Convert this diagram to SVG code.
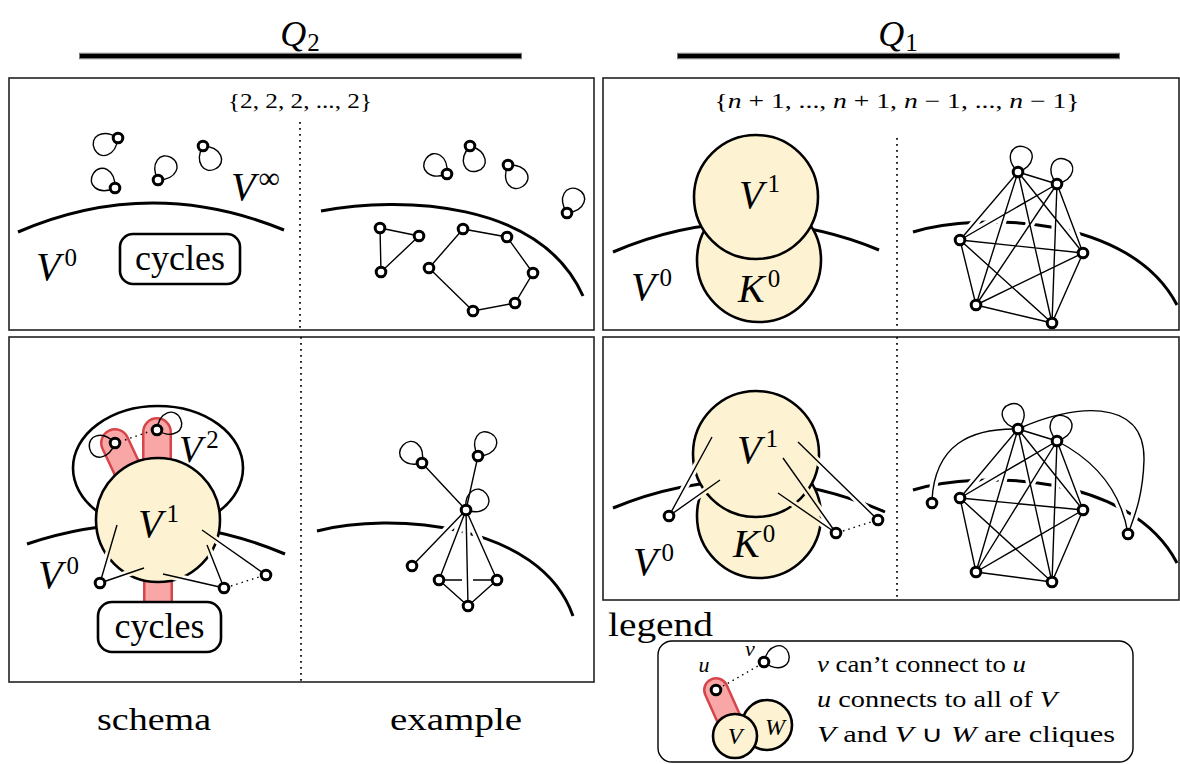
<svg xmlns="http://www.w3.org/2000/svg" xmlns:xlink="http://www.w3.org/1999/xlink" width="1180" height="764" viewBox="0 0 1180 764">
<style>
.t{font-family:"Liberation Serif","Times New Roman",serif;fill:#000}
.m{font-style:italic}
.panel{fill:#fff;stroke:#222;stroke-width:1.6}
.div{stroke:#000;stroke-width:1.7;stroke-dasharray:1.7 4.3;fill:none}
.arc{fill:none;stroke:#000;stroke-width:3}
.edge{fill:none;stroke:#000;stroke-width:1.4}
.v{fill:#fff;stroke:#000;stroke-width:3}
.loop{fill:none;stroke:#000;stroke-width:1.4}
.setf{fill:#fdf3d3}
.sets{fill:none;stroke:#000;stroke-width:2.6}
.dot{fill:none;stroke:#000;stroke-width:1.4;stroke-dasharray:1.5 4}
.barO{stroke:#d6454a;stroke-linecap:round}
.barI{stroke:#f8a6a6;stroke-linecap:round}
.box{fill:#fff;stroke:#000;stroke-width:2.6}
</style>
<defs>
<path id="lp" d="M0,0 C-16,-10 -13,-26 0,-26 C13,-26 16,-10 0,0"/>
<g id="e-blS">
<path d="M117,525 L100,583 M144,568 L100,583 M163,574 L224,588 M207,545 L224,588 M202,530 L266,575"/>
</g>
<g id="e-blE">
<path d="M466,510 L422,463 M466,510 L478,456 M466,510 L412,566 M466,510 L439,580 M466,510 L497,580 M466,510 L468,606 M439,580 L468,606 M497,580 L468,606"/>
</g>
<g id="e-trE">
<path d="M1018,172L1057,184 M1018,172L960,240 M1018,172L1083,253 M1018,172L976,305 M1018,172L1052,323 M1057,184L960,240 M1057,184L1083,253 M1057,184L976,305 M1057,184L1052,323 M960,240L1083,253 M960,240L976,305 M960,240L1052,323 M1083,253L976,305 M1083,253L1052,323 M976,305L1052,323"/>
</g>
<g id="e-brS">
<path d="M712,437 L669,516 M720,480 L669,516 M798,442 L878,520 M783,458 L836,533 M778,493 L836,533"/>
</g>
<g id="e-brE">
<path d="M1018,429L1057,441 M1018,429L960,498 M1018,429L1083,510 M1018,429L976,572 M1018,429L1052,582 M1057,441L960,498 M1057,441L1083,510 M1057,441L976,572 M1057,441L1052,582 M960,498L1083,510 M960,498L976,572 M960,498L1052,582 M1083,510L976,572 M1083,510L1052,582 M976,572L1052,582"/>
<path d="M1018,429 C970,428 935,445 932,500 M1018,429 C1070,405 1145,395 1144,460 C1143,495 1135,515 1128,534 M1057,441 C1090,458 1120,485 1128,534"/>
</g>
<mask id="m-blS" maskUnits="userSpaceOnUse" x="0" y="0" width="1180" height="764">
<rect width="1180" height="764" fill="#fff"/>
<use xlink:href="#e-blS" fill="none" stroke="#000" stroke-width="7"/>
</mask>
<mask id="m-blE" maskUnits="userSpaceOnUse" x="0" y="0" width="1180" height="764">
<rect width="1180" height="764" fill="#fff"/>
<use xlink:href="#e-blE" fill="none" stroke="#000" stroke-width="8"/>
</mask>
<mask id="m-trE" maskUnits="userSpaceOnUse" x="0" y="0" width="1180" height="764">
<rect width="1180" height="764" fill="#fff"/>
<use xlink:href="#e-trE" fill="none" stroke="#000" stroke-width="8"/>
</mask>
<mask id="m-brS" maskUnits="userSpaceOnUse" x="0" y="0" width="1180" height="764">
<rect width="1180" height="764" fill="#fff"/>
<use xlink:href="#e-brS" fill="none" stroke="#000" stroke-width="7"/>
</mask>
<mask id="m-brE" maskUnits="userSpaceOnUse" x="0" y="0" width="1180" height="764">
<rect width="1180" height="764" fill="#fff"/>
<use xlink:href="#e-brE" fill="none" stroke="#000" stroke-width="8"/>
</mask>
</defs>
<rect width="1180" height="764" fill="#fff"/>

<!-- headers -->
<g id="header-q2">
<line x1="79" y1="56" x2="522" y2="56" stroke="#7a7a7a" stroke-width="6.5"/>
<line x1="80" y1="56" x2="521" y2="56" stroke="#000" stroke-width="4"/>
<text class="t" x="300" y="46" font-size="36" text-anchor="middle"><tspan class="m">Q</tspan><tspan font-size="25" dx="1" dy="5">2</tspan></text>
</g>
<g id="header-q1">
<line x1="677" y1="56" x2="1120" y2="56" stroke="#7a7a7a" stroke-width="6.5"/>
<line x1="678" y1="56" x2="1119" y2="56" stroke="#000" stroke-width="4"/>
<text class="t" x="898" y="46" font-size="36" text-anchor="middle"><tspan class="m">Q</tspan><tspan font-size="25" dx="1" dy="5">1</tspan></text>
</g>

<!-- top-left panel -->
<g id="panel-q2-top">
<rect class="panel" x="9" y="78" width="585" height="252"/>
<line class="div" x1="300" y1="122" x2="300" y2="330"/>
<text class="t" x="300" y="108" font-size="21" text-anchor="middle" textLength="144" lengthAdjust="spacingAndGlyphs">{2, 2, 2, ..., 2}</text>
<path class="arc" d="M18,232 Q150,175 284,230"/>
<g id="tl-loops">
<use xlink:href="#lp" class="loop" transform="translate(118,138) rotate(-115)"/>
<use xlink:href="#lp" class="loop" transform="translate(115,188) rotate(-56)"/>
<use xlink:href="#lp" class="loop" transform="translate(158,180) rotate(31)"/>
<use xlink:href="#lp" class="loop" transform="translate(203,146) rotate(151)"/>
<circle class="v" cx="118" cy="138" r="4.8"/>
<circle class="v" cx="115" cy="188" r="4.8"/>
<circle class="v" cx="158" cy="180" r="4.8"/>
<circle class="v" cx="203" cy="146" r="4.8"/>
</g>
<text class="t" x="231" y="200" font-size="40"><tspan class="m">V</tspan><tspan font-size="30" dx="3" dy="-12">∞</tspan></text>
<text class="t" x="36" y="280" font-size="40"><tspan class="m">V</tspan><tspan font-size="25" dx="4" dy="-14">0</tspan></text>
<g id="tl-cycles">
<rect class="box" x="120" y="234" width="120" height="50" rx="13"/>
<text class="t" x="180" y="270" font-size="36" text-anchor="middle">cycles</text>
</g>
<!-- example -->
<path class="arc" d="M321,211 C400,196 540,200 583,296"/>
<g id="tl-ex-conn">
<path class="edge" d="M380,228 L419,236 L381,272 Z M463,229 L507,237 L533,273 L515,303 L473,311 L429,268 Z"/>
</g>
<g id="tl-ex-nodes">
<use xlink:href="#lp" class="loop" transform="translate(447,174) rotate(-53)"/>
<use xlink:href="#lp" class="loop" transform="translate(470,146) rotate(164)"/>
<use xlink:href="#lp" class="loop" transform="translate(508,165) rotate(145)"/>
<use xlink:href="#lp" class="loop" transform="translate(567,213) rotate(25)"/>
<circle class="v" cx="447" cy="174" r="4.8"/>
<circle class="v" cx="470" cy="146" r="4.8"/>
<circle class="v" cx="508" cy="165" r="4.8"/>
<circle class="v" cx="567" cy="213" r="4.8"/>
<circle class="v" cx="380" cy="228" r="4.8"/>
<circle class="v" cx="419" cy="236" r="4.8"/>
<circle class="v" cx="381" cy="272" r="4.8"/>
<circle class="v" cx="463" cy="229" r="4.8"/>
<circle class="v" cx="507" cy="237" r="4.8"/>
<circle class="v" cx="533" cy="273" r="4.8"/>
<circle class="v" cx="515" cy="303" r="4.8"/>
<circle class="v" cx="473" cy="311" r="4.8"/>
<circle class="v" cx="429" cy="268" r="4.8"/>
</g>
</g>

<!-- top-right panel -->
<g id="panel-q1-top">
<rect class="panel" x="603" y="78" width="576" height="252"/>
<line class="div" x1="897" y1="138" x2="897" y2="330"/>
<text class="t" x="897" y="108" font-size="21" text-anchor="middle" textLength="365" lengthAdjust="spacingAndGlyphs">{<tspan class="m">n</tspan> + 1, ..., <tspan class="m">n</tspan> + 1, <tspan class="m">n</tspan> − 1, ..., <tspan class="m">n</tspan> − 1}</text>
<path class="arc" d="M613,252 Q746,195 879,250"/>
<g id="tr-K0">
<circle class="setf" cx="759" cy="260" r="62"/>
<circle class="sets" cx="759" cy="260" r="62"/>
</g>
<g id="tr-V1">
<circle class="setf" cx="756" cy="197" r="62"/>
<circle class="sets" cx="756" cy="197" r="62"/>
</g>
<text class="t" x="739" y="208" font-size="40"><tspan class="m">V</tspan><tspan font-size="25" dx="4" dy="-16">1</tspan></text>
<text class="t" x="738" y="302" font-size="40"><tspan class="m">K</tspan><tspan font-size="25" dx="3" dy="-15">0</tspan></text>
<text class="t" x="631" y="300" font-size="40"><tspan class="m">V</tspan><tspan font-size="25" dx="4" dy="-14">0</tspan></text>
<!-- example -->
<path class="arc" mask="url(#m-trE)" d="M913,232 C980,212 1130,215 1177,305"/>
<g id="tr-ex-conn"><use xlink:href="#e-trE" class="edge"/></g>
<g id="tr-ex-nodes">
<use xlink:href="#lp" class="loop" transform="translate(1018,172) rotate(12)"/>
<use xlink:href="#lp" class="loop" transform="translate(1057,184) rotate(18)"/>
<circle class="v" cx="1018" cy="172" r="4.8"/>
<circle class="v" cx="1057" cy="184" r="4.8"/>
<circle class="v" cx="960" cy="240" r="4.8"/>
<circle class="v" cx="1083" cy="253" r="4.8"/>
<circle class="v" cx="976" cy="305" r="4.8"/>
<circle class="v" cx="1052" cy="323" r="4.8"/>
</g>
</g>

<!-- bottom-left panel -->
<g id="panel-q2-bottom">
<rect class="panel" x="9" y="337" width="585" height="345"/>
<line class="div" x1="301" y1="337" x2="301" y2="682"/>
<g id="bl-V2"><ellipse cx="158" cy="468" rx="85" ry="62" fill="#fff" stroke="#000" stroke-width="2.6"/></g>
<g id="bl-bars">
<line class="barO" x1="115" y1="443" x2="138" y2="492" stroke-width="30"/>
<line class="barI" x1="115" y1="443" x2="138" y2="492" stroke-width="25"/>
<line class="barO" x1="157" y1="432" x2="157" y2="485" stroke-width="30"/>
<line class="barI" x1="157" y1="432" x2="157" y2="485" stroke-width="25"/>
<line class="barO" x1="158" y1="555" x2="158" y2="615" stroke-width="30"/>
<line class="barI" x1="158" y1="555" x2="158" y2="615" stroke-width="25"/>
</g>
<path class="arc" d="M27,544 Q157,500 285,554"/>
<g id="bl-V1">
<circle class="setf" cx="158" cy="520" r="62"/>
<circle class="sets" cx="158" cy="520" r="62" mask="url(#m-blS)"/>
</g>
<g id="bl-cycles">
<rect class="box" x="98" y="602" width="123" height="50" rx="14"/>
<text class="t" x="159.5" y="638" font-size="36" text-anchor="middle">cycles</text>
</g>
<text class="t" x="179" y="462" font-size="38"><tspan class="m">V</tspan><tspan font-size="25" dx="4" dy="-14">2</tspan></text>
<text class="t" x="138" y="537" font-size="40"><tspan class="m">V</tspan><tspan font-size="25" dx="4" dy="-15">1</tspan></text>
<text class="t" x="38" y="588" font-size="40"><tspan class="m">V</tspan><tspan font-size="25" dx="4" dy="-14">0</tspan></text>
<g id="bl-conn">
<use xlink:href="#e-blS" class="edge"/>
<path class="dot" d="M125,440 L148,432"/>
<path class="dot" d="M231,586 L259,577"/>
</g>
<g id="bl-nodes">
<use xlink:href="#lp" class="loop" transform="translate(115,443) rotate(-102)"/>
<use xlink:href="#lp" class="loop" transform="translate(157,430) rotate(64)"/>
<circle class="v" cx="115" cy="443" r="4.8"/>
<circle class="v" cx="157" cy="430" r="4.8"/>
<circle class="v" cx="100" cy="583" r="4.8"/>
<circle class="v" cx="224" cy="588" r="4.8"/>
<circle class="v" cx="266" cy="575" r="4.8"/>
</g>
<!-- example -->
<path class="arc" mask="url(#m-blE)" d="M317,531 C390,512 540,522 573,616"/>
<g id="bl-ex-conn">
<use xlink:href="#e-blE" class="edge"/>
<path class="edge" d="M439,580 L462,580 M473,580 L497,580"/>
</g>
<g id="bl-ex-nodes">
<use xlink:href="#lp" class="loop" transform="translate(466,510) rotate(51)"/>
<use xlink:href="#lp" class="loop" transform="translate(422,463) rotate(-47)"/>
<use xlink:href="#lp" class="loop" transform="translate(478,456) rotate(30)"/>
<circle class="v" cx="466" cy="510" r="4.8"/>
<circle class="v" cx="422" cy="463" r="4.8"/>
<circle class="v" cx="478" cy="456" r="4.8"/>
<circle class="v" cx="412" cy="566" r="4.8"/>
<circle class="v" cx="439" cy="580" r="4.8"/>
<circle class="v" cx="497" cy="580" r="4.8"/>
<circle class="v" cx="468" cy="606" r="4.8"/>
</g>
</g>

<!-- bottom-right panel -->
<g id="panel-q1-bottom">
<rect class="panel" x="603" y="337" width="576" height="263"/>
<line class="div" x1="897" y1="337" x2="897" y2="600"/>
<path class="arc" mask="url(#m-brS)" d="M613,508 Q748,452 885,512"/>
<g id="br-K0">
<circle class="setf" cx="759" cy="516" r="62"/>
<circle class="sets" cx="759" cy="516" r="62" mask="url(#m-brS)"/>
</g>
<g id="br-V1">
<circle class="setf" cx="756" cy="454" r="63"/>
<circle class="sets" cx="756" cy="454" r="63" mask="url(#m-brS)"/>
</g>
<text class="t" x="737" y="463" font-size="40"><tspan class="m">V</tspan><tspan font-size="25" dx="4" dy="-16">1</tspan></text>
<text class="t" x="733" y="557" font-size="40"><tspan class="m">K</tspan><tspan font-size="25" dx="3" dy="-15">0</tspan></text>
<text class="t" x="633" y="575" font-size="40"><tspan class="m">V</tspan><tspan font-size="25" dx="4" dy="-14">0</tspan></text>
<g id="br-conn">
<use xlink:href="#e-brS" class="edge"/>
<path class="dot" d="M843,531 L871,522"/>
</g>
<g id="br-nodes">
<circle class="v" cx="669" cy="516" r="4.8"/>
<circle class="v" cx="836" cy="533" r="4.8"/>
<circle class="v" cx="878" cy="520" r="4.8"/>
</g>
<!-- example -->
<path class="arc" mask="url(#m-brE)" d="M913,490 C980,470 1130,473 1177,563"/>
<g id="br-ex-conn"><use xlink:href="#e-brE" class="edge"/></g>
<g id="br-ex-nodes">
<use xlink:href="#lp" class="loop" transform="translate(1018,429) rotate(-18)"/>
<use xlink:href="#lp" class="loop" transform="translate(1057,441) rotate(15)"/>
<circle class="v" cx="1018" cy="429" r="4.8"/>
<circle class="v" cx="1057" cy="441" r="4.8"/>
<circle class="v" cx="960" cy="498" r="4.8"/>
<circle class="v" cx="1083" cy="510" r="4.8"/>
<circle class="v" cx="976" cy="572" r="4.8"/>
<circle class="v" cx="1052" cy="582" r="4.8"/>
<circle class="v" cx="932" cy="503" r="4.8"/>
<circle class="v" cx="1128" cy="534" r="4.8"/>
</g>
</g>

<!-- bottom labels -->
<text class="t" x="154" y="730" font-size="32" text-anchor="middle" textLength="114" lengthAdjust="spacingAndGlyphs">schema</text>
<text class="t" x="456" y="730" font-size="32" text-anchor="middle" textLength="132" lengthAdjust="spacingAndGlyphs">example</text>

<!-- legend -->
<g id="legend">
<text class="t" x="608" y="636" font-size="34" textLength="105" lengthAdjust="spacingAndGlyphs">legend</text>
<rect x="658" y="641" width="475" height="121" rx="14" fill="#fff" stroke="#000" stroke-width="1.4"/>
<line class="barO" x1="716" y1="690" x2="733" y2="728" stroke-width="26"/>
<line class="barI" x1="716" y1="690" x2="733" y2="728" stroke-width="21"/>
<circle class="setf" cx="767" cy="725" r="25"/>
<circle class="sets" cx="767" cy="725" r="25"/>
<circle class="setf" cx="735" cy="736" r="22"/>
<circle class="sets" cx="735" cy="736" r="22"/>
<text class="t m" x="735" y="744" font-size="24" text-anchor="middle">V</text>
<text class="t m" x="775" y="735" font-size="24" text-anchor="middle">W</text>
<path class="dot" d="M723,686 L758,666"/>
<use xlink:href="#lp" class="loop" transform="translate(764,662) rotate(70)"/>
<circle class="v" cx="716" cy="690" r="4.8"/>
<circle class="v" cx="764" cy="662" r="4.8"/>
<text class="t m" x="704" y="672" font-size="22" text-anchor="middle">u</text>
<text class="t m" x="750" y="656" font-size="22" text-anchor="middle">v</text>
<text class="t" x="817" y="672" font-size="23" textLength="209" lengthAdjust="spacingAndGlyphs"><tspan class="m">v</tspan> can’t connect to <tspan class="m">u</tspan></text>
<text class="t" x="817" y="707" font-size="23" textLength="240" lengthAdjust="spacingAndGlyphs"><tspan class="m">u</tspan> connects to all of <tspan class="m">V</tspan></text>
<text class="t" x="817" y="742" font-size="23" textLength="298" lengthAdjust="spacingAndGlyphs"><tspan class="m">V</tspan> and <tspan class="m">V</tspan> ∪ <tspan class="m">W</tspan> are cliques</text>
</g>
</svg>
